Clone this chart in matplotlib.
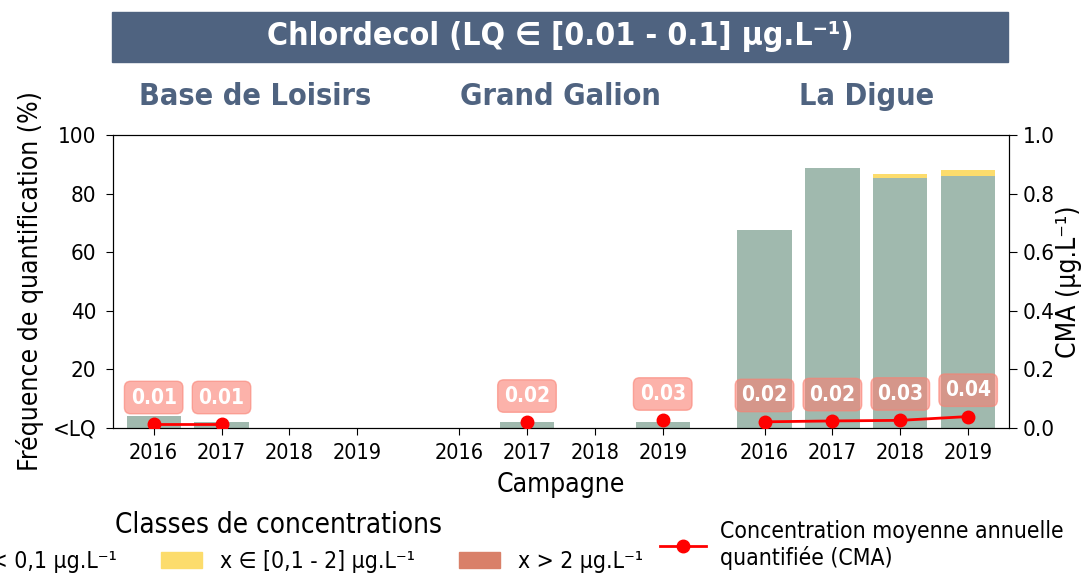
import numpy as np
import matplotlib
matplotlib.use("Agg")
import matplotlib.pyplot as plt
from matplotlib.patches import Rectangle, Patch
from matplotlib.lines import Line2D

plt.rcParams['font.family'] = ['DejaVu Sans']
plt.rcParams['font.stretch'] = 'condensed'

# données
groups = ["Base de Loisirs", "Grand Galion", "La Digue"]
years = ["2016", "2017", "2018", "2019"]
nan = np.nan
freq_low = [[4.2, 2.1, nan, nan], [nan, 2.1, nan, 2.1], [67.6, 88.7, 85.2, 86.0]]
freq_mid = [[0, 0, nan, nan], [nan, 0, nan, 0], [0, 0, 1.4, 2.0]]
freq_high = [[0, 0, nan, nan], [nan, 0, nan, 0], [0, 0, 0, 0]]
cma = [[0.014, 0.014, nan, nan], [nan, 0.019, nan, 0.026], [0.021, 0.024, 0.026, 0.039]]

col_low = "#a0b9ae"
col_mid = "#fcdc6c"
col_high = "#d98069"
col_title = "#4f6380"

fig = plt.figure(figsize=(10.86, 5.75), dpi=100)
ax = fig.add_axes([0.104, 0.2557, 0.825, 0.5095])
ax2 = ax.twinx()

xpos_all = []
for g in range(len(groups)):
    xs = np.arange(len(years)) + g * 4.5
    xpos_all.extend(xs)
    low = np.array(freq_low[g], dtype=float)
    mid = np.array(freq_mid[g], dtype=float)
    high = np.array(freq_high[g], dtype=float)
    ax.bar(xs, low, width=0.8, color=col_low)
    ax.bar(xs, mid, width=0.8, bottom=low, color=col_mid)
    ax.bar(xs, high, width=0.8, bottom=low + mid, color=col_high)
    c = np.array(cma[g], dtype=float)
    ax2.plot(xs, c, color="red", marker="o", markersize=9, linewidth=2, zorder=5)
    for x, v in zip(xs, c):
        if not np.isnan(v):
            ax2.text(x, v + 0.09, f"{v:.2f}", ha="center", va="center", color="white",
                     fontsize=15, fontweight="bold", zorder=6,
                     bbox=dict(boxstyle="round,pad=0.3", fc="salmon", ec="salmon", alpha=0.6))
    ax.text(xs.mean(), 1.13, groups[g], transform=ax.get_xaxis_transform(), ha="center",
            va="center", fontsize=22, fontweight="bold", color=col_title)

ax.set_xticks(xpos_all)
ax.set_xticklabels(years * len(groups), fontsize=15.5)
ax.tick_params(axis="x", pad=6, length=5)
ax.tick_params(axis="y", pad=7, length=5)
ax.set_xlim(-0.6, 12.6)
ax.set_ylim(0, 100)
ax.set_yticks([0, 20, 40, 60, 80, 100])
ax.set_yticklabels(["<LQ", "20", "40", "60", "80", "100"], fontsize=16)
ax.set_xlabel("Campagne", fontsize=19, labelpad=6)
ax.set_ylabel("Fréquence de quantification (%)", fontsize=19, labelpad=6)
ax2.set_ylim(0, 1)
ax2.set_yticks([0, 0.2, 0.4, 0.6, 0.8, 1.0])
ax2.set_yticklabels(["0.0", "0.2", "0.4", "0.6", "0.8", "1.0"], fontsize=16)
ax2.tick_params(axis="y", pad=4, length=6)
ax2.set_ylabel("CMA (µg.L⁻¹)", fontsize=19, labelpad=1)

# bandeau titre
fig.patches.append(Rectangle((0.103, 0.892), 0.825, 0.087, transform=fig.transFigure,
                             color=col_title, zorder=0))
fig.text(0.5157, 0.9357, "Chlordecol (LQ ∈ [0.01 - 0.1] µg.L⁻¹)", ha="center", va="center",
         color="white", fontsize=23, fontweight="bold")

# légendes
handles = [Patch(color=col_low, label="x < 0,1 µg.L⁻¹"),
           Patch(color=col_mid, label="x ∈ [0,1 - 2] µg.L⁻¹"),
           Patch(color=col_high, label="x > 2 µg.L⁻¹")]
leg1 = fig.legend(handles=handles, loc="upper center", bbox_to_anchor=(0.256, 0.14), ncol=3,
                  frameon=False, title="Classes de concentrations", fontsize=16.5,
                  title_fontsize=20, columnspacing=1.9, handlelength=1.8, borderpad=0.2)
leg2 = fig.legend(handles=[Line2D([], [], color="red", marker="o", markersize=9, linewidth=2)],
                  labels=["Concentration moyenne annuelle\nquantifiée (CMA)"],
                  loc="center left", bbox_to_anchor=(0.589, 0.052), frameon=False, fontsize=16.5,
                  labelspacing=0.2, handletextpad=0.6)

fig.savefig("out.png", dpi=100)
